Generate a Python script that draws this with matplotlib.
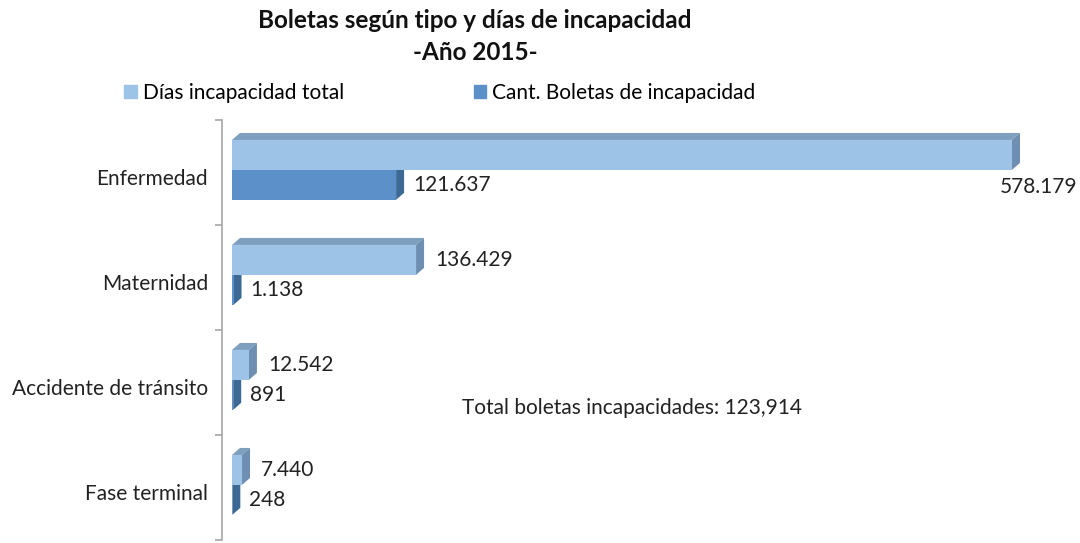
import matplotlib
matplotlib.use('Agg')
import matplotlib.pyplot as plt
from matplotlib.patches import Polygon, Patch

plt.rcParams['font.family'] = ['Lato', 'DejaVu Sans']

categorias = ['Enfermedad', 'Maternidad', 'Accidente de tránsito', 'Fase terminal']
dias = [578179, 136429, 12542, 7440]
boletas = [121637, 1138, 891, 248]
dias_txt = ['578.179', '136.429', '12.542', '7.440']
boletas_txt = ['121.637', '1.138', '891', '248']
total_txt = 'Total boletas incapacidades: 123,914'

light = '#9dc3e6'
light_top = '#7f9fbf'
light_side = '#6f8fb2'
dark = '#5b91c8'
dark_side = '#3c6a95'

fig = plt.figure(figsize=(10.8, 5.43), dpi=100)
W, H = 1080, 543
ax = fig.add_axes([222 / W, 3 / H, (W - 222) / W, 420 / H])

# pixels -> data units
s = max(dias) / 780.0
ax.set_xlim(-10 * s, 848 * s)
ax.set_ylim(0, 4)
dx = 8 * s
dy = 7 / 105.0
bh = 0.285

n = len(categorias)
for i in range(n):
    yc = n - 1 - i + 0.5 + 0.025
    # dark bar (below)
    y0, y1 = yc - bh, yc
    v = boletas[i]
    ax.add_patch(Polygon([(v, y0), (v, y1), (v + dx, y1 + dy), (v + dx, y0 + dy)],
                         closed=True, fc=dark_side, ec='none', zorder=2))
    ax.barh(yc - bh / 2, v, height=bh, left=0, color=dark, zorder=3)
    # light bar (above)
    y0, y1 = yc, yc + bh
    v = dias[i]
    ax.add_patch(Polygon([(0, y1), (dx, y1 + dy), (v + dx, y1 + dy), (v, y1)],
                         closed=True, fc=light_top, ec='none', zorder=4))
    ax.add_patch(Polygon([(v, y0), (v, y1), (v + dx, y1 + dy), (v + dx, y0 + dy)],
                         closed=True, fc=light_side, ec='none', zorder=4))
    ax.barh(yc + bh / 2, v, height=bh, left=0, color=light, zorder=5)

    # labels
    if i == 0:
        ax.annotate(dias_txt[i], (v, yc + bh / 2), xytext=(-12, -32),
                    textcoords='offset pixels', va='center', ha='left',
                    fontsize=15, color='#222222')
    else:
        ax.annotate(dias_txt[i], (v, yc + bh / 2), xytext=(19, 0),
                    textcoords='offset pixels', va='center', ha='left',
                    fontsize=15, color='#222222')
    ax.annotate(boletas_txt[i], (boletas[i], yc - bh / 2), xytext=(17, 0),
                textcoords='offset pixels', va='center', ha='left',
                fontsize=15, color='#222222')

# axis styling
for sp in ['top', 'right', 'bottom']:
    ax.spines[sp].set_visible(False)
ax.spines['left'].set_color('#a6a6a6')
ax.spines['left'].set_linewidth(1.2)
ax.set_xticks([])
ax.set_yticks([0, 1, 2, 3, 4])
ax.set_yticklabels([])
ax.tick_params(axis='y', which='major', direction='out', length=5, color='#a6a6a6', width=1.2)
ax.set_yticks([n - 1 - i + 0.5 - 0.04 for i in range(n)], minor=True)
ax.set_yticklabels(categorias, minor=True, fontsize=15, color='#222222')
ax.tick_params(axis='y', which='minor', length=0, pad=10)

ax.text((462 - 222) / (W - 222), (543 - 408 - 3) / 420, total_txt,
        transform=ax.transAxes, va='center', ha='left', fontsize=15, color='#222222')

fig.text(475 / W, 1 - 20 / H, 'Boletas según tipo y días de incapacidad', ha='center',
         va='center', fontsize=17.5, fontweight='bold', color='#111111')
fig.text(475 / W, 1 - 52 / H, '-Año 2015-', ha='center', va='center',
         fontsize=17.5, fontweight='bold', color='#111111')

handles = [Patch(color=light, label='Días incapacidad total'),
           Patch(color=dark, label='Cant. Boletas de incapacidad')]
fig.legend(handles=handles, loc='center', bbox_to_anchor=(440 / W, 1 - 93 / H), ncol=2,
           frameon=False, fontsize=15, handlelength=0.6, handleheight=0.6,
           handletextpad=0.3, columnspacing=6.2)

fig.savefig('out.png', dpi=100)
